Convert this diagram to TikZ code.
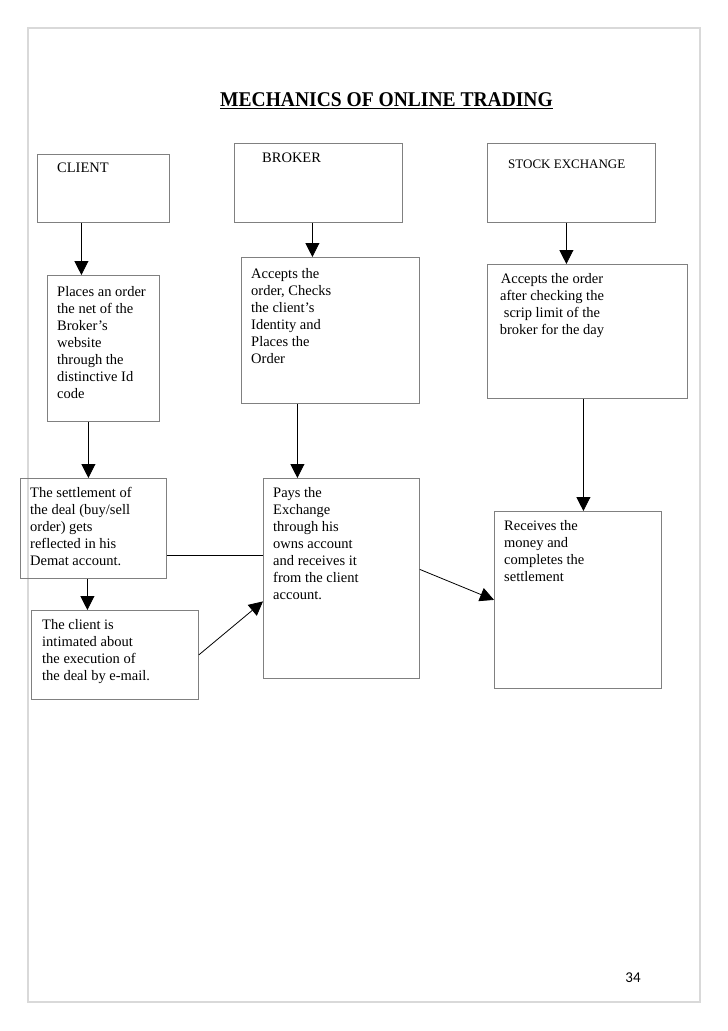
\documentclass[tikz,border=0pt]{standalone}
\usepackage{fontspec}
\setmainfont{Liberation Serif}
\newfontfamily\pagefont{Carlito}
\usetikzlibrary{arrows.meta}

\begin{document}
\begin{tikzpicture}[x=1pt,y=-1pt,
    box/.style={draw=black!50, line width=0.8pt, inner sep=0pt, anchor=north west},
    txt/.style={inner sep=0pt, anchor=north west, align=left,
      font=\fontsize{14.5}{17}\selectfont},
    arr/.style={draw, line width=0.8pt, -{Triangle[width=14pt,length=14pt]}},
    line/.style={draw, line width=0.8pt}]
  \useasboundingbox (0,0) rectangle (728,1031);
  \draw[black!15, line width=2pt] (27.5,28) rectangle (700,1002);

  \node[inner sep=0pt, anchor=north, font=\fontsize{21}{24}\selectfont\bfseries]
    (title) at (386.5,92) {\scalebox{0.93}[1]{\underline{MECHANICS OF ONLINE TRADING}}};

  % top row
  \node[box, minimum width=132pt, minimum height=68pt] (client) at (37,154) {};
  \node[txt] (clientlbl) at (57,163) {CLIENT};
  \node[box, minimum width=168pt, minimum height=79pt] (broker) at (234,143) {};
  \node[txt] (brokerlbl) at (262,153) {BROKER};
  \node[box, minimum width=168pt, minimum height=79pt] (exch) at (487,143) {};
  \node[txt, font=\fontsize{13}{16}\selectfont] (exchlbl) at (508,160) {STOCK EXCHANGE};

  % second row
  \node[box, minimum width=112pt, minimum height=146pt] (places) at (47,275) {};
  \node[txt] (placeslbl) at (57,286) {Places an order\\the net of the\\Broker’s\\website\\through the\\distinctive Id\\code};
  \node[box, minimum width=178pt, minimum height=146pt] (bacc) at (241,257) {};
  \node[txt] (bacclbl) at (251,268) {Accepts the\\order, Checks\\the client’s\\Identity and\\Places the\\Order};
  \node[box, minimum width=200pt, minimum height=134pt] (eacc) at (487,264) {};
  \node[txt, anchor=north, align=center] (eacclbl) at (552,273) {Accepts the order\\after checking the\\scrip limit of the\\broker for the day};

  % third row
  \node[box, minimum width=146pt, minimum height=100pt] (settle) at (20,478) {};
  \node[txt] (settlelbl) at (30,487) {The settlement of\\the deal (buy/sell\\order) gets\\reflected in his\\Demat account.};
  \node[box, minimum width=156pt, minimum height=200pt] (pays) at (263,478) {};
  \node[txt] (payslbl) at (273,487) {Pays the\\Exchange\\through his\\owns account\\and receives it\\from the client\\account.};
  \node[box, minimum width=167pt, minimum height=177pt] (recv) at (494,511) {};
  \node[txt] (recvlbl) at (504,520) {Receives the\\money and\\completes the\\settlement};
  \node[box, minimum width=167pt, minimum height=89pt] (mail) at (31,610) {};
  \node[txt] (maillbl) at (42,619) {The client is\\intimated about\\the execution of\\the deal by e-mail.};

  \node[inner sep=0pt, font=\pagefont\fontsize{15}{18}\selectfont] (pageno) at (633,978) {34};

  % connectors
  \draw[arr] ([xshift=-22pt]client.south) -- ([xshift=-22pt]client.south |- places.north);
  \draw[arr] ([xshift=-6pt]broker.south) -- ([xshift=-6pt]broker.south |- bacc.north);
  \draw[arr] ([xshift=-5pt]exch.south) -- ([xshift=-5pt]exch.south |- eacc.north);
  \draw[arr] ([xshift=-15pt]places.south) -- ([xshift=-15pt]places.south |- settle.north);
  \draw[arr] ([xshift=-33pt]bacc.south) -- ([xshift=-33pt]bacc.south |- pays.north);
  \draw[arr] ([xshift=-4pt]eacc.south) -- ([xshift=-4pt]eacc.south |- recv.north);
  \draw[arr] ([xshift=-6pt]settle.south) -- ([xshift=-6pt]settle.south |- mail.north);
  \draw[line] ([yshift=-27pt]settle.east) -- ([yshift=-27pt]settle.east -| pays.west);
  \draw[arr] (mail.east) -- ([yshift=-23pt]pays.west);
  \draw[arr] ([yshift=9pt]pays.east) -- (recv.west);
\end{tikzpicture}
\end{document}
